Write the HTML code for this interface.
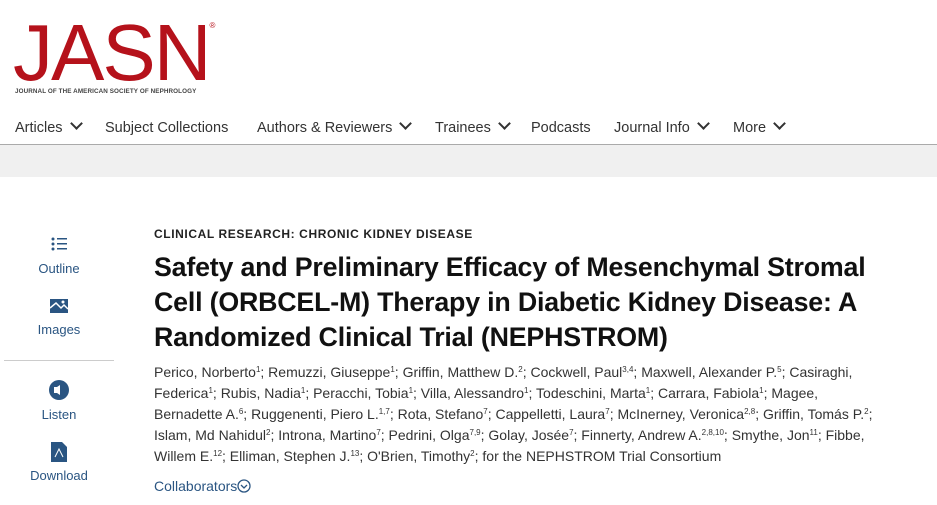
<!DOCTYPE html>
<html><head><meta charset="utf-8"><style>
body{margin:0;width:937px;height:505px;overflow:hidden;background:#fff;font-family:"Liberation Sans",sans-serif;position:relative}
.a{position:absolute;white-space:nowrap}
.logo{left:13px;top:-14px;font-size:80px;color:#b5121b;letter-spacing:-2px;line-height:80px}
.sub{left:15px;top:88px;font-size:6.3px;color:#444;font-weight:bold;letter-spacing:.1px}
.nav{top:120px;font-size:14.5px;color:#333}
.chev{display:inline-block;width:7px;height:7px;border-right:2.5px solid #333;border-bottom:2.5px solid #333;transform:rotate(45deg);margin-left:9px;position:relative;top:-4px}
.side{left:0;width:118px;text-align:center;font-size:13px;color:#2a5582}
.au{left:154px;font-size:14px;color:#333;line-height:21px}
sup{font-size:8px;vertical-align:5px;line-height:0}
.t{left:154px;font-size:26.8px;font-weight:bold;color:#111;letter-spacing:-.2px}
</style></head><body>
<div class="a logo">JASN<span style="font-size:8px;vertical-align:52px;letter-spacing:0">®</span></div>
<div class="a sub">JOURNAL OF THE AMERICAN SOCIETY OF NEPHROLOGY</div>
<div class="a nav" style="left:15px">Articles<span class="chev"></span></div>
<div class="a nav" style="left:105px">Subject Collections</div>
<div class="a nav" style="left:257px">Authors &amp; Reviewers<span class="chev"></span></div>
<div class="a nav" style="left:435px">Trainees<span class="chev"></span></div>
<div class="a nav" style="left:531px">Podcasts</div>
<div class="a nav" style="left:614px">Journal Info<span class="chev"></span></div>
<div class="a nav" style="left:733px">More<span class="chev"></span></div>
<div class="a" style="left:0;top:144px;width:937px;height:1px;background:#aaa"></div>
<div class="a" style="left:0;top:145px;width:937px;height:32px;background:#f0f0f0"></div>

<div class="a side" style="top:236px"><svg width="18" height="16"><g fill="#2a5582"><circle cx="3" cy="3" r="1.5"/><circle cx="3" cy="8" r="1.5"/><circle cx="3" cy="13" r="1.5"/><rect x="7" y="2" width="10" height="1.5"/><rect x="7" y="7" width="10" height="1.5"/><rect x="7" y="12" width="10" height="1.5"/></g></svg></div>
<div class="a side" style="top:261px">Outline</div>
<div class="a side" style="top:299px"><svg width="18" height="14"><rect x="0" y="0" width="18" height="14" fill="#2a5582"/><path d="M0 9 L6 4 L11 9 L14 6 L18 10" stroke="#fff" stroke-width="1.5" fill="none"/><circle cx="13" cy="3" r="1.5" fill="#fff"/></svg></div>
<div class="a side" style="top:322px">Images</div>
<div class="a" style="left:4px;top:360px;width:110px;height:1px;background:#ccc"></div>
<div class="a side" style="top:380px"><svg width="20" height="20"><circle cx="10" cy="10" r="10" fill="#2a5582"/><rect x="5" y="7" width="3" height="6" fill="#fff"/><path d="M8 7 L11 5 L11 15 L8 13Z" fill="#fff"/></svg></div>
<div class="a side" style="top:407px">Listen</div>
<div class="a side" style="top:442px"><svg width="16" height="20"><path d="M0 0 H11 L16 5 V20 H0Z" fill="#2a5582"/><path d="M4 15 L8 7 L12 15" stroke="#fff" fill="none"/></svg></div>
<div class="a side" style="top:468px">Download</div>

<div class="a" style="left:154px;top:227px;font-size:12px;font-weight:bold;color:#222;letter-spacing:.6px">CLINICAL RESEARCH: CHRONIC KIDNEY DISEASE</div>
<div class="a t" style="top:252px">Safety and Preliminary Efficacy of Mesenchymal Stromal</div>
<div class="a t" style="top:287px">Cell (ORBCEL-M) Therapy in Diabetic Kidney Disease: A</div>
<div class="a t" style="top:322px">Randomized Clinical Trial (NEPHSTROM)</div>
<div class="a au" style="top:362px">Perico, Norberto<sup>1</sup>; Remuzzi, Giuseppe<sup>1</sup>; Griffin, Matthew D.<sup>2</sup>; Cockwell, Paul<sup>3,4</sup>; Maxwell, Alexander P.<sup>5</sup>; Casiraghi,</div>
<div class="a au" style="top:383px">Federica<sup>1</sup>; Rubis, Nadia<sup>1</sup>; Peracchi, Tobia<sup>1</sup>; Villa, Alessandro<sup>1</sup>; Todeschini, Marta<sup>1</sup>; Carrara, Fabiola<sup>1</sup>; Magee,</div>
<div class="a au" style="top:404px">Bernadette A.<sup>6</sup>; Ruggenenti, Piero L.<sup>1,7</sup>; Rota, Stefano<sup>7</sup>; Cappelletti, Laura<sup>7</sup>; McInerney, Veronica<sup>2,8</sup>; Griffin, Tomás P.<sup>2</sup>;</div>
<div class="a au" style="top:425px">Islam, Md Nahidul<sup>2</sup>; Introna, Martino<sup>7</sup>; Pedrini, Olga<sup>7,9</sup>; Golay, Josée<sup>7</sup>; Finnerty, Andrew A.<sup>2,8,10</sup>; Smythe, Jon<sup>11</sup>; Fibbe,</div>
<div class="a au" style="top:446px">Willem E.<sup>12</sup>; Elliman, Stephen J.<sup>13</sup>; O'Brien, Timothy<sup>2</sup>;  for the NEPHSTROM Trial Consortium</div>
<div class="a" style="left:154px;top:478px;font-size:14px;color:#2a5582">Collaborators<svg width="14" height="14" style="vertical-align:-2px"><circle cx="7" cy="7" r="6" stroke="#2a5582" fill="none" stroke-width="1.3"/><path d="M4 6 L7 9 L10 6" stroke="#2a5582" fill="none" stroke-width="1.3"/></svg></div>
</body></html>
